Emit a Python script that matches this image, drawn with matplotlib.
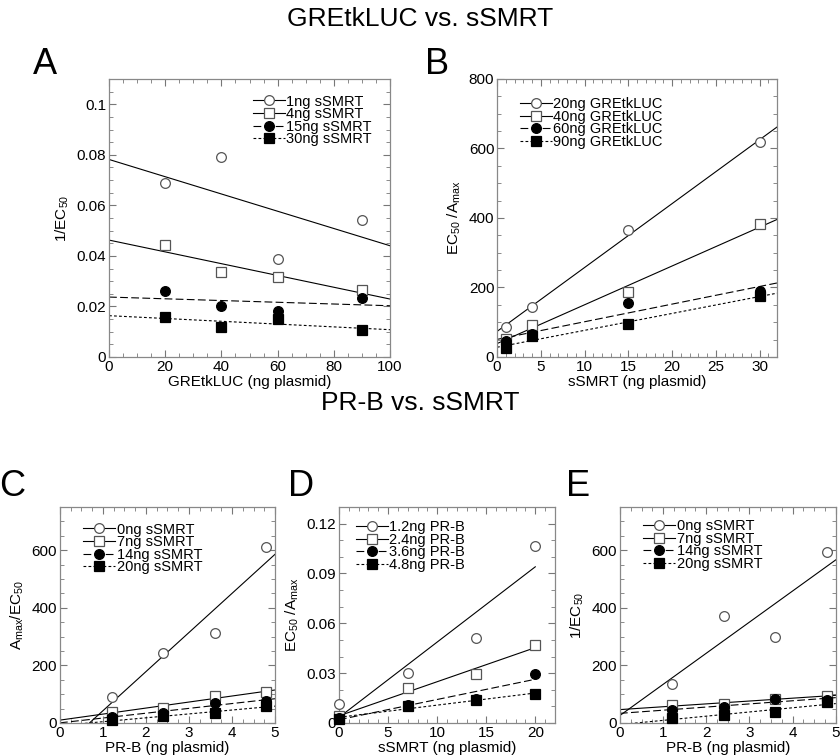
import numpy as np
import matplotlib
matplotlib.use('Agg')
import matplotlib.pyplot as plt
from matplotlib.ticker import MultipleLocator, FuncFormatter

plt.rcParams['font.family'] = ['Liberation Sans', 'DejaVu Sans']
plt.rcParams['mathtext.fontset'] = 'custom'
plt.rcParams['mathtext.rm'] = 'Liberation Sans'
plt.rcParams['mathtext.it'] = 'Liberation Sans'

# Panel A: 1/EC50 vs GREtkLUC
a_x = [20, 40, 60, 90]
a_labels = ['1ng sSMRT', '4ng sSMRT', '15ng sSMRT', '30ng sSMRT']
a_1ng = [0.069, 0.079, 0.0389, 0.054]
a_4ng = [0.0443, 0.0335, 0.0316, 0.0266]
a_15ng = [0.0261, 0.0202, 0.018, 0.0233]
a_30ng = [0.0158, 0.012, 0.0152, 0.0107]

# Panel B: EC50/Amax vs sSMRT
b_x = [1, 4, 15, 30]
b_labels = ['20ng GREtkLUC', '40ng GREtkLUC', '60ng GREtkLUC', '90ng GREtkLUC']
b_20ng = [86, 145, 364, 618]
b_40ng = [52, 92, 186, 382]
b_60ng = [45, 67, 154, 190]
b_90ng = [26, 59, 94, 176]

# Panel C: Amax/EC50 vs PR-B
c_x = [1.2, 2.4, 3.6, 4.8]
c_labels = ['0ng sSMRT', '7ng sSMRT', '14ng sSMRT', '20ng sSMRT']
c_0ng = [90, 244, 313, 610]
c_7ng = [38, 52, 93, 108]
c_14ng = [21, 35, 71, 76]
c_20ng = [9, 23, 35, 59]

# Panel D: EC50/Amax vs sSMRT
d_x = [0, 7, 14, 20]
d_labels = ['1.2ng PR-B', '2.4ng PR-B', '3.6ng PR-B', '4.8ng PR-B']
d_12 = [0.0114, 0.0299, 0.0514, 0.1066]
d_24 = [0.004, 0.0209, 0.0293, 0.0472]
d_36 = [0.003, 0.011, 0.0145, 0.0293]
d_48 = [0.0024, 0.010, 0.014, 0.0173]

# Panel E: 1/EC50 vs PR-B
e_x = [1.2, 2.4, 3.6, 4.8]
e_labels = ['0ng sSMRT', '7ng sSMRT', '14ng sSMRT', '20ng sSMRT']
e_0ng = [137, 371, 300, 593]
e_7ng = [61, 65, 85, 94]
e_14ng = [46, 56, 82, 81]
e_20ng = [17, 27, 37, 72]

styles = [
    dict(marker='o', mfc='white', mec='#555555', ls='-'),
    dict(marker='s', mfc='white', mec='#555555', ls='-'),
    dict(marker='o', mfc='black', mec='black', ls=(0, (7, 3))),
    dict(marker='s', mfc='black', mec='black', ls=(0, (2.5, 2))),
]


def fmt(v, pos):
    if abs(v) < 1e-12:
        return '0'
    return ('%.3f' % v).rstrip('0').rstrip('.')


def panel(ax, x, series, labels, xmax, ymax, xmaj, xmin, ymaj, ymin,
          xlabel, ylabel, fit_end=None, leg_loc=(0.5, 0.98), floatfmt=False):
    xs = np.array(x, dtype=float)
    end = xmax if fit_end is None else fit_end
    xx = np.linspace(0, end, 50)
    for ys, lab, st in zip(series, labels, styles):
        k, b = np.polyfit(xs, np.array(ys), 1)
        ax.plot(xx, k * xx + b, color='black', lw=0.8, ls=st['ls'], zorder=2)
        ax.plot(xs, ys, ls='none', marker=st['marker'], ms=7,
                mfc=st['mfc'], mec=st['mec'], mew=0.9, zorder=3, clip_on=False)
        ax.plot([], [], color='black', lw=0.8, ls=st['ls'], marker=st['marker'],
                ms=7, mfc=st['mfc'], mec=st['mec'], mew=0.9, label=lab)
    ax.set_xlim(0, xmax)
    ax.set_ylim(0, ymax)
    ax.xaxis.set_major_locator(MultipleLocator(xmaj))
    ax.xaxis.set_minor_locator(MultipleLocator(xmin))
    ax.yaxis.set_major_locator(MultipleLocator(ymaj))
    ax.yaxis.set_minor_locator(MultipleLocator(ymin))
    if floatfmt:
        ax.yaxis.set_major_formatter(FuncFormatter(fmt))
    ax.tick_params(which='both', direction='in', top=True, right=True,
                   color='#777777', labelsize=11, pad=2)
    ax.tick_params(which='major', length=5, width=0.8)
    ax.tick_params(which='minor', length=3, width=0.6)
    for sp in ax.spines.values():
        sp.set_color('#888888')
        sp.set_linewidth(0.9)
    ax.set_xlabel(xlabel, fontsize=11, labelpad=1)
    ax.set_ylabel(ylabel, fontsize=11, labelpad=4)
    ax.legend(loc='upper left', bbox_to_anchor=leg_loc, frameon=False,
              fontsize=10.5, handlelength=2.2, handletextpad=0.1,
              labelspacing=-0.1, borderaxespad=0)


fig = plt.figure(figsize=(8.4, 7.55), dpi=100)

axA = fig.add_axes([0.1298, 0.5272, 0.3345, 0.3682])
panel(axA, a_x, [a_1ng, a_4ng, a_15ng, a_30ng], a_labels, 100, 0.11,
      20, 5, 0.02, 0.005, 'GREtkLUC (ng plasmid)', '1/EC$_{50}$',
      leg_loc=(0.49, 0.965), floatfmt=True)

axB = fig.add_axes([0.5917, 0.5272, 0.3333, 0.3682])
panel(axB, b_x, [b_20ng, b_40ng, b_60ng, b_90ng], b_labels, 32, 800,
      5, 1, 200, 50, 'sSMRT (ng plasmid)', 'EC$_{50}$ /A$_{max}$',
      leg_loc=(0.06, 0.955))

axC = fig.add_axes([0.0714, 0.0424, 0.256, 0.2861])
panel(axC, c_x, [c_0ng, c_7ng, c_14ng, c_20ng], c_labels, 5, 750,
      1, 0.25, 200, 50, 'PR-B (ng plasmid)', 'A$_{max}$/EC$_{50}$',
      leg_loc=(0.08, 0.955))

axD = fig.add_axes([0.4036, 0.0424, 0.257, 0.2861])
panel(axD, d_x, [d_12, d_24, d_36, d_48], d_labels, 22, 0.13,
      5, 1, 0.03, 0.01, 'sSMRT (ng plasmid)', 'EC$_{50}$ /A$_{max}$',
      fit_end=20, leg_loc=(0.05, 0.965), floatfmt=True)

axE = fig.add_axes([0.738, 0.0424, 0.257, 0.2861])
panel(axE, e_x, [e_0ng, e_7ng, e_14ng, e_20ng], e_labels, 5, 750,
      1, 0.25, 200, 50, 'PR-B (ng plasmid)', '1/EC$_{50}$',
      leg_loc=(0.08, 0.97))

fig.text(0.5, 0.975, 'GREtkLUC vs. sSMRT', ha='center', va='center', fontsize=19)
fig.text(0.5, 0.466, 'PR-B vs. sSMRT', ha='center', va='center', fontsize=19)

for lab, x, y in [('A', 0.054, 0.914), ('B', 0.52, 0.914),
                  ('C', 0.015, 0.355), ('D', 0.359, 0.355), ('E', 0.688, 0.355)]:
    fig.text(x, y, lab, ha='center', va='center', fontsize=26)

fig.savefig('out.png', dpi=100)
